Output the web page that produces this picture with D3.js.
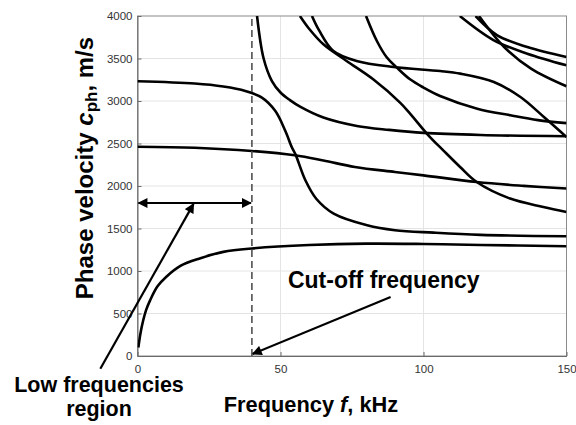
<!DOCTYPE html>
<html>
<head>
<meta charset="utf-8">
<script src="https://cdn.jsdelivr.net/npm/d3@7"></script>
<style>
  body { margin: 0; background: #fff; }
  svg { display: block; font-family: "Liberation Sans", Arial, sans-serif; }
</style>
</head>
<body>
<svg id="chart" width="576" height="425"></svg>
<script>
// dispersion branches, frequency in kHz, phase velocity in m/s
var fA = [0.3, 1, 2, 3, 4.4, 7, 10, 15, 22, 30, 40, 60, 80, 100, 120, 150]
var cA = [100, 260, 420, 540, 655, 820, 930, 1060, 1150, 1225, 1265, 1305, 1322, 1318, 1306, 1292]

var fB = [0, 20, 40, 55, 65, 76, 90, 100, 118.6, 135, 150]
var cB = [2462, 2450, 2412, 2361, 2300, 2224, 2165, 2125, 2047, 2002, 1970]

var fC = [0, 20, 30, 37.7, 43.5, 48.2, 51.7, 54, 55.2, 58.7, 62.5, 68.6, 80.3, 90, 103.5, 120, 150]
var cC = [3232, 3205, 3170, 3118, 3040, 2882, 2647, 2452, 2375, 2067, 1850, 1675, 1538, 1480, 1451, 1425, 1408]

var fD = [41.8, 44.1, 47, 50, 53.3, 57, 65, 76.7, 88, 100, 120, 150]
var cD = [4000, 3500, 3235, 3100, 3010, 2930, 2805, 2706, 2660, 2625, 2600, 2585]

var fE1 = [56.8, 60, 65, 73.1, 82.4, 91.8, 95.3, 101.7, 106.9, 112.8, 118.6, 130.3, 141.9, 150]
var cE1 = [4000, 3850, 3667, 3471, 3255, 2981, 2852, 2597, 2420, 2224, 2047, 1852, 1753, 1694]

var fE2 = [61, 63.5, 68.5, 76.6, 89.5, 105.8, 112.9, 124.6, 133.9, 142.1, 150]
var cE2 = [4000, 3830, 3588, 3471, 3400, 3353, 3322, 3224, 3047, 2812, 2577]

var fF = [79.9, 83.7, 87.2, 90.7, 95.3, 100, 105.8, 118.8, 130.4, 140, 150]
var cF = [4000, 3706, 3511, 3393, 3255, 3158, 3059, 2910, 2832, 2775, 2740]

var fG1 = [112.7, 124.6, 136.3, 150]
var cG1 = [4000, 3714, 3557, 3420]
var fG2 = [118.2, 125.8, 136.3, 150]
var cG2 = [4000, 3773, 3635, 3518]
var fG3 = [119.4, 128.2, 137.6, 150]
var cG3 = [4000, 3635, 3381, 3173]

var branches = [[fA, cA], [fB, cB], [fC, cC], [fD, cD], [fE1, cE1], [fE2, cE2], [fF, cF], [fG1, cG1], [fG2, cG2], [fG3, cG3]]

var xTicks = [0, 50, 100, 150]
var yTicks = [0, 500, 1000, 1500, 2000, 2500, 3000, 3500, 4000]
var cutoff = 40
var bandLevel = 1800

var margin = {top: 16, right: 9.5, bottom: 69, left: 137.5}
var width = 576 - margin.left - margin.right
var height = 425 - margin.top - margin.bottom

var svg = d3.select("#chart")
var g = svg.append("g").attr("transform", "translate(" + margin.left + "," + margin.top + ")")

var x = d3.scaleLinear().domain([0, 150]).range([0, width])
var y = d3.scaleLinear().domain([0, 4000]).range([height, 0])

// grid
g.append("g").selectAll("line").data(xTicks.slice(1, -1)).join("line")
    .attr("x1", d => x(d)).attr("x2", d => x(d)).attr("y1", 0).attr("y2", height)
    .attr("stroke", "#e4e4e4")
g.append("g").selectAll("line").data(yTicks.slice(1, -1)).join("line")
    .attr("y1", d => y(d)).attr("y2", d => y(d)).attr("x1", 0).attr("x2", width)
    .attr("stroke", "#e4e4e4")

// box
g.append("rect").attr("width", width).attr("height", height)
    .attr("fill", "none").attr("stroke", "#8a8a8a").attr("stroke-width", 1)

var xAxis = g.append("g").attr("transform", "translate(0," + height + ")")
    .call(d3.axisBottom(x).tickValues(xTicks).tickFormat(d3.format("d"))
        .tickSizeInner(-4).tickSizeOuter(0).tickPadding(9))
var yAxis = g.append("g")
    .call(d3.axisLeft(y).tickValues(yTicks).tickFormat(d3.format("d"))
        .tickSizeInner(-4).tickSizeOuter(0).tickPadding(5))
;[xAxis, yAxis].forEach(function(a) {
    a.select(".domain").attr("stroke", "#6a6a6a")
    a.selectAll(".tick line").attr("stroke", "#6a6a6a")
    a.selectAll("text").attr("fill", "#333").attr("font-size", "11.5px")
        .attr("font-family", "Liberation Sans, Arial, sans-serif")
})

// curves
var clip = svg.append("defs").append("clipPath").attr("id", "clip")
clip.append("rect").attr("width", width).attr("height", height)

var line = d3.line().x(d => x(d[0])).y(d => y(d[1])).curve(d3.curveCatmullRom.alpha(0.5))
g.append("g").attr("clip-path", "url(#clip)")
    .selectAll("path").data(branches).join("path")
    .attr("d", b => line(d3.zip(b[0], b[1])))
    .attr("fill", "none").attr("stroke", "#000").attr("stroke-width", 2.6)

// cut-off line
g.append("line")
    .attr("x1", x(cutoff)).attr("x2", x(cutoff)).attr("y1", y(0)).attr("y2", y(4000))
    .attr("stroke", "#444").attr("stroke-width", 1.5).attr("stroke-dasharray", "7,4")

// arrows
var defs = svg.select("defs")
defs.append("marker").attr("id", "head").attr("viewBox", "0 0 10 10")
    .attr("refX", 9).attr("refY", 5).attr("markerWidth", 5.2).attr("markerHeight", 4.5)
    .attr("markerUnits", "strokeWidth").attr("orient", "auto-start-reverse")
    .append("path").attr("d", "M0,0 L10,5 L0,10 z").attr("fill", "#000")

g.append("line")
    .attr("x1", x(0) + 1).attr("x2", x(cutoff) - 1).attr("y1", y(bandLevel)).attr("y2", y(bandLevel))
    .attr("stroke", "#000").attr("stroke-width", 2.2)
    .attr("marker-start", "url(#head)").attr("marker-end", "url(#head)")

var pointers = [
    {from: [-13, -150], to: [19.6, 1790]},
    {from: [88.5, 694], to: [40.3, 25]}
]
g.selectAll(".ptr").data(pointers).join("line").attr("class", "ptr")
    .attr("x1", d => x(d.from[0])).attr("y1", d => y(d.from[1]))
    .attr("x2", d => x(d.to[0])).attr("y2", d => y(d.to[1]))
    .attr("stroke", "#000").attr("stroke-width", 2.2).attr("marker-end", "url(#head)")

// annotation text
g.append("text").attr("x", x(52.6)).attr("y", y(805))
    .attr("font-size", "23px").attr("font-weight", "bold").attr("fill", "#000")
    .text("Cut-off frequency")

var low = svg.append("text").attr("text-anchor", "middle")
    .attr("font-size", "21.5px").attr("font-weight", "bold").attr("fill", "#000")
low.append("tspan").attr("x", 99).attr("y", 392).text("Low frequencies")
low.append("tspan").attr("x", 99).attr("y", 416).text("region")

// axis titles
var xt = svg.append("text").attr("x", 311).attr("y", 411.5).attr("text-anchor", "middle")
    .attr("font-size", "21.8px").attr("font-weight", "bold").attr("fill", "#000")
xt.append("tspan").text("Frequency ")
xt.append("tspan").attr("font-style", "italic").text("f")
xt.append("tspan").text(", kHz")

var yt = svg.append("text").attr("transform", "translate(93,168) rotate(-90)")
    .attr("text-anchor", "middle")
    .attr("font-size", "24px").attr("font-weight", "bold").attr("fill", "#000")
yt.append("tspan").text("Phase velocity ")
yt.append("tspan").attr("font-style", "italic").text("c")
yt.append("tspan").attr("font-size", "17px").attr("dy", 4).text("ph")
yt.append("tspan").attr("dy", -4).text(", m/s")
</script>
</body>
</html>
